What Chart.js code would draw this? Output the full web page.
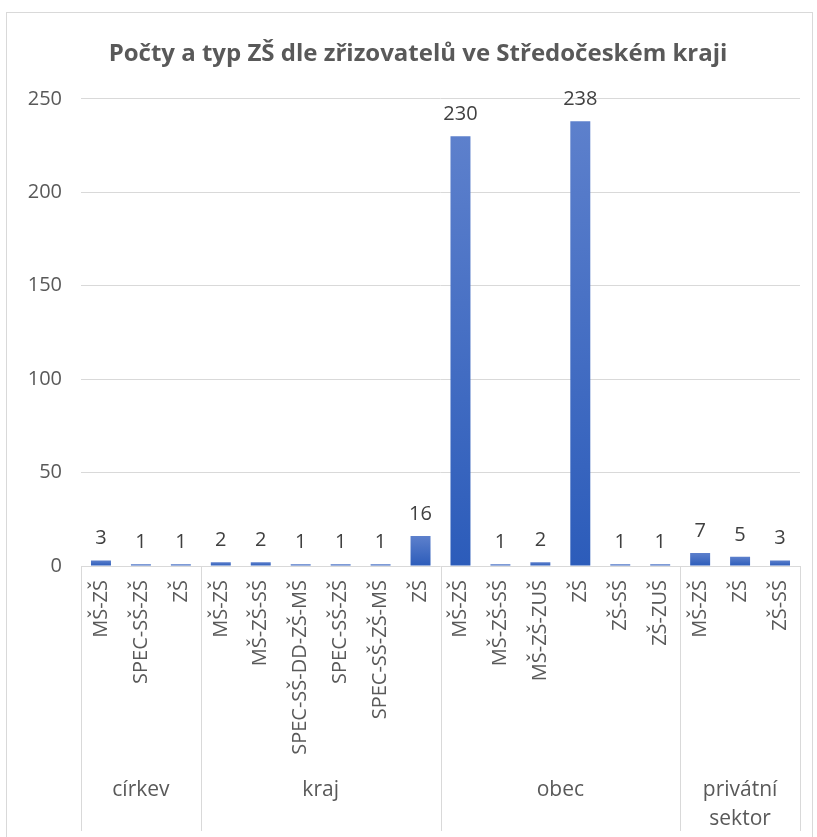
<!DOCTYPE html>
<html>
<head>
<meta charset="utf-8">
<script src="https://cdn.jsdelivr.net/npm/chart.js@4"></script>
<style>
  html, body { margin: 0; padding: 0; background: #ffffff; overflow: hidden; }
  canvas { display: block; }
</style>
</head>
<body>
<canvas id="c" width="836" height="837"></canvas>
<script>
const chartTitle = 'Počty a typ ZŠ dle zřizovatelů ve Středočeském kraji';
const categories = ['MŠ-ZŠ','SPEC-SŠ-ZŠ','ZŠ','MŠ-ZŠ','MŠ-ZŠ-SŠ','SPEC-SŠ-DD-ZŠ-MŠ','SPEC-SŠ-ZŠ','SPEC-SŠ-ZŠ-MŠ','ZŠ','MŠ-ZŠ','MŠ-ZŠ-SŠ','MŠ-ZŠ-ZUŠ','ZŠ','ZŠ-SŠ','ZŠ-ZUŠ','MŠ-ZŠ','ZŠ','ZŠ-SŠ'];
const categoryGroups = ['církev','církev','církev','kraj','kraj','kraj','kraj','kraj','kraj','obec','obec','obec','obec','obec','obec','privátní sektor','privátní sektor','privátní sektor'];
const groupNames = ['církev','kraj','obec','privátní sektor'];
const groupLabelLines = [['církev'],['kraj'],['obec'],['privátní','sektor']];
const values = [3,1,1,2,2,1,1,1,16,230,1,2,238,1,1,7,5,3];
const yTicks = [0,50,100,150,200,250];

const textColor = '#595959';
const gridColor = '#d9d9d9';

Chart.defaults.font.family = "'Open Sans', sans-serif";

function barGradient(ctx) {
  const chart = ctx.chart;
  const y = chart.scales.y;
  if (!y || ctx.dataIndex === undefined) return '#4472c4';
  const v = values[ctx.dataIndex];
  const top = y.getPixelForValue(v);
  const bottom = y.getPixelForValue(0);
  if (!isFinite(top) || !isFinite(bottom) || top === bottom) return '#4472c4';
  const g = chart.ctx.createLinearGradient(0, top, 0, bottom);
  g.addColorStop(0, '#5d80cc');
  g.addColorStop(1, '#2c5cba');
  return g;
}

const framePlugin = {
  id: 'frame',
  beforeDraw(chart) {
    const c = chart.ctx;
    c.save();
    c.strokeStyle = gridColor;
    c.lineWidth = 1;
    c.strokeRect(6.5, 12.5, 806, 900);
    c.restore();
  }
};

const groupPlugin = {
  id: 'groups',
  afterDraw(chart) {
    const x = chart.scales.x;
    const area = chart.chartArea;
    const c = chart.ctx;
    const half = (x.getPixelForValue(1) - x.getPixelForValue(0)) / 2;
    const bounds = [0];
    for (let i = 1; i < categoryGroups.length; i++) {
      if (categoryGroups[i] !== categoryGroups[i - 1]) bounds.push(i);
    }
    bounds.push(categoryGroups.length);
    c.save();
    c.strokeStyle = gridColor;
    c.lineWidth = 1;
    bounds.forEach(b => {
      const px = Math.round(x.getPixelForValue(b) - half) + 0.5;
      c.beginPath();
      c.moveTo(px, area.bottom);
      c.lineTo(px, 831);
      c.stroke();
    });
    c.fillStyle = textColor;
    c.font = "21px 'Open Sans', sans-serif";
    c.textAlign = 'center';
    c.textBaseline = 'middle';
    for (let g = 0; g < bounds.length - 1; g++) {
      const a = x.getPixelForValue(bounds[g]) - half;
      const b = x.getPixelForValue(bounds[g + 1]) - half;
      const cx = (a + b) / 2;
      const idx = groupNames.indexOf(categoryGroups[bounds[g]]);
      const lines = groupLabelLines[idx];
      lines.forEach((ln, k) => c.fillText(ln, cx, 790 + k * 29));
    }
    c.restore();
  }
};

const labelPlugin = {
  id: 'dataLabels',
  afterDatasetsDraw(chart) {
    const meta = chart.getDatasetMeta(0);
    const c = chart.ctx;
    c.save();
    c.fillStyle = '#404040';
    c.font = "20px 'Open Sans', sans-serif";
    c.textAlign = 'center';
    c.textBaseline = 'alphabetic';
    meta.data.forEach((el, i) => {
      c.fillText(String(values[i]), el.x, el.y - 16);
    });
    c.restore();
  }
};

new Chart(document.getElementById('c'), {
  type: 'bar',
  data: {
    labels: categories,
    datasets: [{
      data: values,
      backgroundColor: barGradient,
      borderWidth: 0,
      categoryPercentage: 1.0,
      barPercentage: 0.5
    }]
  },
  options: {
    responsive: false,
    animation: false,
    layout: { padding: { left: 0, right: 0, top: 0, bottom: 0 } },
    plugins: {
      legend: { display: false },
      tooltip: { enabled: false },
      title: {
        display: true,
        text: chartTitle,
        color: textColor,
        font: { size: 24, weight: 'bold', family: "'Open Sans', sans-serif" },
        padding: { top: 40, bottom: 30 }
      }
    },
    scales: {
      x: {
        grid: { display: false, drawTicks: false },
        border: { display: false },
        ticks: {
          autoSkip: false,
          minRotation: 90,
          maxRotation: 90,
          padding: 14,
          color: textColor,
          font: { size: 20 }
        },
        afterFit(scale) { scale.height = 271; }
      },
      y: {
        min: 0,
        max: 250,
        afterBuildTicks(scale) { scale.ticks = yTicks.map(v => ({ value: v })); },
        grid: { color: gridColor, drawTicks: false },
        border: { display: false },
        ticks: {
          padding: 19,
          color: textColor,
          font: { size: 20 }
        },
        afterFit(scale) { scale.width = 81; }
      },
      yRight: {
        position: 'right',
        display: true,
        grid: { display: false, drawTicks: false },
        border: { display: false },
        ticks: { display: false },
        afterFit(scale) { scale.width = 36; }
      }
    }
  },
  plugins: [framePlugin, groupPlugin, labelPlugin]
});
</script>
</body>
</html>
